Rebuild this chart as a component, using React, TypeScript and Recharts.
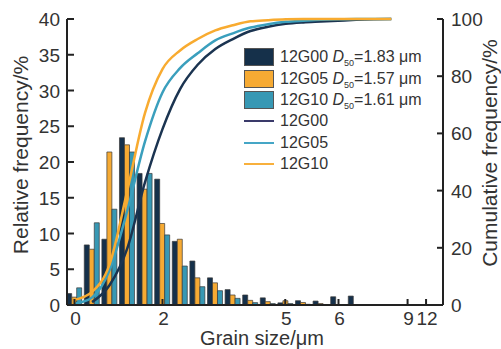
import React from "react";
import { ComposedChart, Bar, Line, XAxis, YAxis, Legend } from "recharts";

// grain size (μm), one bin every 0.4 μm
const sizes = [0, 0.4, 0.8, 1.2, 1.6, 2.0, 2.4, 2.8, 3.2, 3.6, 4.0, 4.4, 4.8, 5.2, 5.6, 6.0, 6.4, 6.8, 7.2];

// relative frequency (%)
const rel12G00 = [1.6, 8.4, 9.2, 23.4, 18.4, 17.6, 8.9, 6.15, 3.8, 2.15, 1.4, 1.0, 0.3, 0.6, 0.55, 1.15, 1.25];
const rel12G05 = [1.1, 7.8, 21.4, 22.4, 16.2, 11.4, 9.2, 3.8, 3.1, 1.4, 0.65, 0.47, 0.6, 0.35, 0.2, 0, 0];
const rel12G10 = [2.4, 11.5, 13.4, 21.4, 18.4, 9.8, 5.45, 2.56, 2.0, 0.93, 0.33, 0.2, 0.2, 0.1, 0.05, 0, 0];

// cumulative frequency (%)
const cum12G00 = [null, 1.0, 7.0, 19.8, 42.8, 61.5, 75.5, 84, 89.5, 93, 95.8, 97.3, 98.3, 98.8, 99.1, 99.4, 99.7, 99.9, 100];
const cum12G05 = [0.4, 2.6, 12.3, 33, 57, 74.3, 82.8, 88, 92.5, 95, 97, 98.2, 99, 99.4, 99.7, 99.9, 100, 100, 100];
const cum12G10 = [1.8, 4.6, 14.3, 40, 67, 82.5, 89, 93, 96, 97.8, 99.2, 99.6, 99.9, 100, 100, 100, 100, 100, 100];

// broken x axis: tick position -> printed label
const xTickPos = [0, 2, 4.79, 6, 7.57, 7.99];
const xTickLabels = ["0", "2", "5", "6", "9", "12"];
const leftTicks = [0, 5, 10, 15, 20, 25, 30, 35, 40];
const rightTicks = [0, 20, 40, 60, 80, 100];

const barLegend = [
  { name: "12G00", d50: "1.83", color: "#15304a" },
  { name: "12G05", d50: "1.57", color: "#f6aa33" },
  { name: "12G10", d50: "1.61", color: "#3798b4" },
];
const lineLegend = [
  { name: "12G00", color: "#3a3a6a" },
  { name: "12G05", color: "#45a6c6" },
  { name: "12G10", color: "#f8b03c" },
];

const data = sizes.map((s, i) => ({
  size: s,
  g00: rel12G00[i],
  g05: rel12G05[i],
  g10: rel12G10[i],
  c00: cum12G00[i],
  c05: cum12G05[i],
  c10: cum12G10[i],
}));

const FONT = "'Liberation Sans', Arial, sans-serif";
const AXIS = "#222";
const TEXT = "#333";
const PL = 67; // plot left
const PR = 443; // plot right
const PB = 305; // plot bottom

const LeftTick = ({ y, payload }: any) => (
  <g>
    <line x1={PL} x2={PL + 7} y1={y} y2={y} stroke={AXIS} strokeWidth={2} />
    <text x={PL - 7} y={y + 7} textAnchor="end" fontSize={19} fill={TEXT} fontFamily={FONT}>
      {payload.value}
    </text>
  </g>
);

const RightTick = ({ y, payload }: any) => (
  <g>
    <line x1={PR - 6} x2={PR} y1={y} y2={y} stroke={AXIS} strokeWidth={2} />
    <text x={PR + 8} y={y + 7} textAnchor="start" fontSize={19} fill={TEXT} fontFamily={FONT}>
      {payload.value}
    </text>
  </g>
);

const BottomTick = ({ x, payload }: any) => {
  const idx = xTickPos.indexOf(payload.value);
  return (
    <g>
      <line x1={x} x2={x} y1={PB - 6} y2={PB} stroke={AXIS} strokeWidth={2} />
      <text x={x + 1} y={325} textAnchor="middle" fontSize={19} fill={TEXT} fontFamily={FONT}>
        {xTickLabels[idx]}
      </text>
    </g>
  );
};

const renderLegend = () => (
  <div style={{ fontFamily: FONT, fontSize: 16, color: TEXT }}>
    {barLegend.map((b) => (
      <div key={b.name} style={{ display: "flex", alignItems: "center", height: 21.4 }}>
        <span
          style={{
            display: "inline-block",
            width: 30,
            height: 18,
            background: b.color,
            border: "1px solid #555",
            boxSizing: "border-box",
            marginRight: 6,
          }}
        />
        <span style={{ whiteSpace: "nowrap" }}>
          {b.name} <i>D</i>
          <sub style={{ fontSize: 9, lineHeight: 0 }}>50</sub>={b.d50} μm
        </span>
      </div>
    ))}
    {lineLegend.map((l) => (
      <div key={"l" + l.name} style={{ display: "flex", alignItems: "center", height: 21.4 }}>
        <span
          style={{ display: "inline-block", width: 30, height: 2, background: l.color, marginRight: 6 }}
        />
        <span>{l.name}</span>
      </div>
    ))}
  </div>
);

export default function App() {
  return (
    <div style={{ position: "absolute", left: 0, top: 0, width: 501, height: 349, background: "#fff" }}>
      <ComposedChart
        width={501}
        height={349}
        data={data}
        margin={{ top: 19, right: 0, bottom: 0, left: 0 }}
        style={{ fontFamily: FONT }}
      >
        <XAxis
          dataKey="size"
          type="number"
          domain={[-0.17, 8.375]}
          ticks={xTickPos}
          interval={0}
          height={44}
          tickSize={0}
          tickLine={false}
          axisLine={{ stroke: AXIS, strokeWidth: 2 }}
          tick={<BottomTick />}
          label={{
            value: "Grain size/μm",
            content: () => (
              <text x={262} y={345} textAnchor="middle" fontSize={20} fill={TEXT} fontFamily={FONT}>
                Grain size/μm
              </text>
            ),
          }}
        />
        <XAxis
          xAxisId="top"
          orientation="top"
          type="number"
          domain={[-0.17, 8.375]}
          height={0}
          tick={false}
          tickLine={false}
          axisLine={{ stroke: AXIS, strokeWidth: 2 }}
        />
        <YAxis
          yAxisId="left"
          domain={[0, 40]}
          ticks={leftTicks}
          interval={0}
          width={67}
          tickSize={0}
          tickLine={false}
          axisLine={{ stroke: AXIS, strokeWidth: 2 }}
          tick={<LeftTick />}
          label={{
            value: "Relative frequency/%",
            content: () => (
              <text
                x={20}
                y={155}
                transform="rotate(-90 20 155)"
                textAnchor="middle"
                dominantBaseline="central"
                fontSize={21}
                fill={TEXT}
                fontFamily={FONT}
              >
                Relative frequency/%
              </text>
            ),
          }}
        />
        <YAxis
          yAxisId="right"
          orientation="right"
          domain={[0, 100]}
          ticks={rightTicks}
          interval={0}
          width={58}
          tickSize={0}
          tickLine={false}
          axisLine={{ stroke: AXIS, strokeWidth: 2 }}
          tick={<RightTick />}
          label={{
            value: "Cumulative frequency/%",
            content: () => (
              <text
                x={489}
                y={153}
                transform="rotate(-90 489 153)"
                textAnchor="middle"
                dominantBaseline="central"
                fontSize={21}
                fill={TEXT}
                fontFamily={FONT}
              >
                Cumulative frequency/%
              </text>
            ),
          }}
        />
        <Legend
          layout="horizontal"
          verticalAlign="middle"
          align="center"
          content={renderLegend}
          wrapperStyle={{ left: 244, top: 46.5, width: "auto", height: "auto" }}
        />
        <Bar yAxisId="left" dataKey="g00" name="12G00" fill={barLegend[0].color} stroke="#3a3a3a" strokeWidth={0.7} barSize={5} isAnimationActive={false} />
        <Bar yAxisId="left" dataKey="g05" name="12G05" fill={barLegend[1].color} stroke="#3a3a3a" strokeWidth={0.7} barSize={5} isAnimationActive={false} />
        <Bar yAxisId="left" dataKey="g10" name="12G10" fill={barLegend[2].color} stroke="#3a3a3a" strokeWidth={0.7} barSize={5} isAnimationActive={false} />
        <Line yAxisId="right" type="monotone" dataKey="c00" stroke="#1b3451" strokeWidth={2.5} dot={false} isAnimationActive={false} />
        <Line yAxisId="right" type="monotone" dataKey="c05" stroke="#3a9fbd" strokeWidth={2.5} dot={false} isAnimationActive={false} />
        <Line yAxisId="right" type="monotone" dataKey="c10" stroke="#f8ab30" strokeWidth={2.5} dot={false} isAnimationActive={false} />
      </ComposedChart>
    </div>
  );
}
